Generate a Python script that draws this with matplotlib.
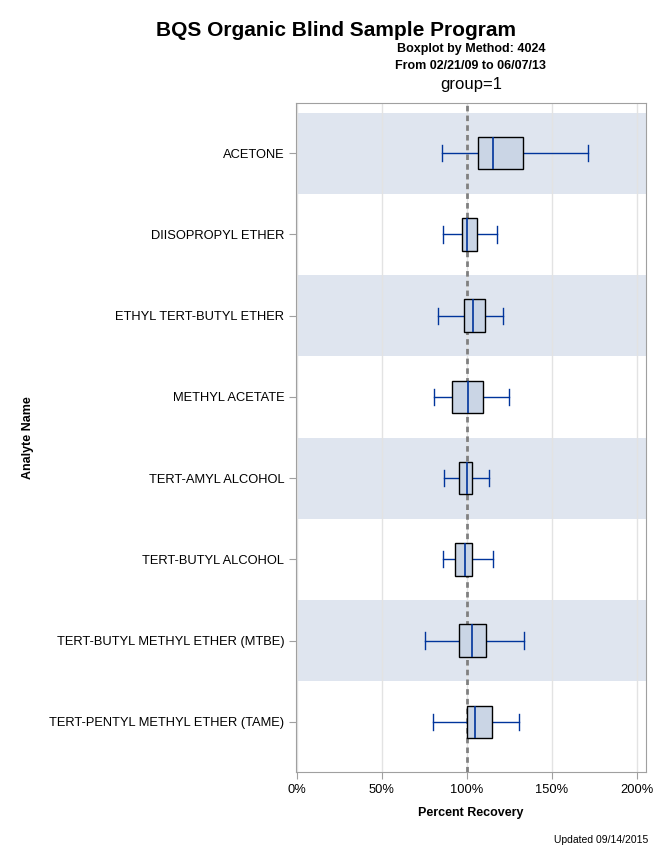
import matplotlib
matplotlib.use("Agg")
import matplotlib.pyplot as plt
from matplotlib.ticker import FuncFormatter

plt.rcParams['font.family'] = ['Liberation Sans', 'DejaVu Sans']

analytes = ["ACETONE", "DIISOPROPYL ETHER", "ETHYL TERT-BUTYL ETHER", "METHYL ACETATE",
            "TERT-AMYL ALCOHOL", "TERT-BUTYL ALCOHOL", "TERT-BUTYL METHYL ETHER (MTBE)",
            "TERT-PENTYL METHYL ETHER (TAME)"]
whisker_low = [85.4, 86.3, 83.4, 80.5, 86.9, 86.3, 75.2, 80.1]
q1 = [106.4, 97.5, 98.6, 91.6, 95.7, 93.3, 95.7, 100.2]
median = [115.6, 100.4, 103.9, 101.0, 100.4, 99.2, 103.3, 105.1]
q3 = [133.2, 106.2, 110.9, 109.8, 103.3, 103.3, 111.5, 115.0]
whisker_high = [171.3, 118.0, 121.5, 125.0, 113.3, 115.6, 133.8, 130.8]
x_ticks = [0, 50, 100, 150, 200]

fig = plt.figure(figsize=(6.72, 8.64), dpi=100)
ax = fig.add_axes([296/672, 1-772/864, 350/672, 669/864])

n = len(analytes)
pos = list(range(n))
for i in pos:
    if i % 2 == 0:
        ax.axhspan(i-0.5, i+0.5, color="#DFE5EF", zorder=0, lw=0)

stats = []
for i in pos:
    stats.append(dict(med=median[i], q1=q1[i], q3=q3[i], whislo=whisker_low[i],
                      whishi=whisker_high[i], fliers=[], label=analytes[i]))
blue = "#00349B"
bp = ax.bxp(stats, positions=pos, vert=False, widths=0.4, patch_artist=True,
            showfliers=False, manage_ticks=False,
            boxprops=dict(facecolor="#CAD5E5", edgecolor="black", lw=1.0),
            medianprops=dict(color=blue, lw=1.2),
            whiskerprops=dict(color=blue, lw=1.0),
            capprops=dict(color=blue, lw=1.0), capwidths=0.2)
for b in bp['boxes']:
    b.set_zorder(5)
for m in bp['medians']:
    m.set_zorder(6)
for w in bp['whiskers'] + bp['caps']:
    w.set_zorder(4)

ax.axvline(100, color="#808080", lw=2, ls=(0, (2, 1.5)), zorder=3)

ax.set_xlim(-0.3, 205.3)
ax.set_ylim(n-0.5+0.118, -0.5-0.118)
ax.set_xticks(x_ticks)
ax.xaxis.set_major_formatter(FuncFormatter(lambda v, p: f"{int(v)}%"))
ax.set_yticks(pos)
ax.set_yticklabels(analytes)
ax.grid(axis='x', color="#E3E3E3", lw=1, zorder=1)
ax.set_axisbelow(True)
for s in ax.spines.values():
    s.set_color("#A0A0A0")
ax.tick_params(axis='both', colors="#A0A0A0", labelcolor="black", labelsize=9.3, length=5)

ax.set_xlabel("Percent Recovery", fontsize=9, fontweight='bold', labelpad=8)
ax.set_ylabel("Analyte Name", fontsize=9, fontweight='bold')
ax.yaxis.set_label_coords(-262/350, 0.5)

fig.text(0.5, 1-30/864, "BQS Organic Blind Sample Program", ha='center', va='center',
         fontsize=15, fontweight='bold')
cx = 471/672
fig.text(cx, 1-49/864, "Boxplot by Method: 4024", ha='center', va='center',
         fontsize=9, fontweight='bold')
fig.text(cx, 1-66/864, "From 02/21/09 to 06/07/13", ha='center', va='center',
         fontsize=9, fontweight='bold')
fig.text(cx, 1-85/864, "group=1", ha='center', va='center', fontsize=12)
fig.text(648/672, 1-840/864, "Updated 09/14/2015", ha='right', va='center', fontsize=7.5)

fig.savefig("out.png", dpi=100)
